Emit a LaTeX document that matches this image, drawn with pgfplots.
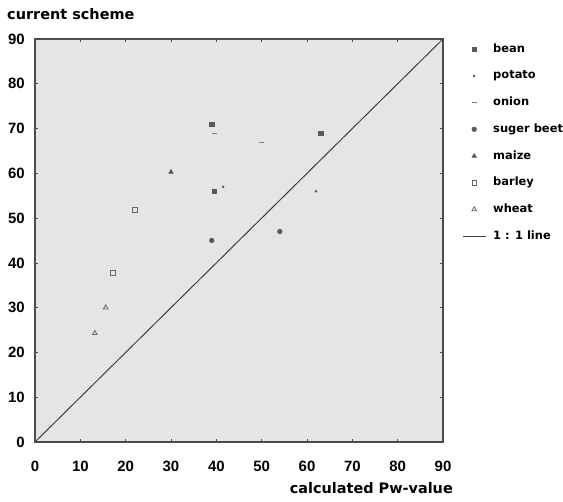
\documentclass[border=0pt]{standalone}
\usepackage{pgfplots}
\pgfplotsset{compat=1.18}
\usepackage{fontspec}
\setmainfont{Liberation Sans}
\newfontfamily\dvb{DejaVu Sans}
\definecolor{mk}{gray}{0.35}
\pgfplotsset{
 mylegmark/.style={legend image code/.code={\draw[mark repeat=2,mark phase=2,##1] plot coordinates {(0bp,0bp) (11.5bp,0bp) (23bp,0bp)};}},
 mylegline/.style={legend image code/.code={\draw[##1] (0bp,0bp) -- (23bp,0bp);}},
}
\begin{document}
\begin{tikzpicture}
\begin{axis}[
 name=ax,
 scale only axis, width=408bp, height=403bp,
 xmin=0,xmax=90,ymin=0,ymax=90,
 xtick={0,10,...,90}, ytick={0,10,...,90},
 tick label style={font=\bfseries\fontsize{15}{15}\selectfont},
 /pgf/number format/assume math mode=true,
 xticklabel style={inner sep=0pt, anchor=north, yshift=-19bp},
 yticklabel style={inner sep=0pt, anchor=east, xshift=-10bp},
 axis background/.style={fill=gray!20},
 axis line style={gray!60!black, line width=1.3pt},
 tick style={gray!60!black, line width=0.6pt},
 tick align=inside, major tick length=3pt,
 xlabel={calculated Pw-value},
 xlabel style={font=\dvb\bfseries\fontsize{14.5}{14.5}\selectfont, inner sep=0pt, at={(rel axis cs:1,0)}, anchor=base east, yshift=-51bp, xshift=10bp},
 ylabel={current scheme},
 ylabel style={font=\dvb\bfseries\fontsize{14.5}{14.5}\selectfont, inner sep=0pt, rotate=-90, at={(rel axis cs:0,1)}, anchor=base west, xshift=-28bp, yshift=20bp},
 legend style={at={(1,1)}, anchor=north west, xshift=19bp, yshift=-4bp, draw=none, fill=none, inner sep=0pt,
   font=\dvb\bfseries\fontsize{11.5}{11.5}\selectfont, row sep=14.7bp,
   nodes={inner sep=0pt, text height=9bp, text depth=3bp},
   /tikz/every odd column/.append style={column sep=7bp}},
 legend cell align=left,
]
\addplot[mylegmark, only marks, mark=square*, mark size=2.3pt, color=mk] coordinates {(39,71) (63,69) (39.5,56)};
\addlegendentry{bean}
\addplot[mylegmark, only marks, mark=*, mark size=1.1pt, color=mk] coordinates {(41.5,57) (62,56)};
\addlegendentry{potato}
\addplot[mylegmark, only marks, mark=-, mark size=2.5pt, color=gray] coordinates {(39.5,69) (50,67)};
\addlegendentry{onion}
\addplot[mylegmark, only marks, mark=*, mark size=2.4pt, color=mk] coordinates {(39,45) (54,47)};
\addlegendentry{suger beet}
\addplot[mylegmark, only marks, mark=triangle*, mark size=2.7pt, color=mk] coordinates {(30,60.3)};
\addlegendentry{maize}
\addplot[mylegmark, only marks, mark=square, mark size=2.3pt, color=gray!80!black, thick] coordinates {(22,51.8) (17.2,37.7)};
\addlegendentry{barley}
\addplot[mylegmark, only marks, mark=triangle, mark size=2.7pt, color=gray!80!black, thick] coordinates {(15.6,30) (13.2,24.3)};
\addlegendentry{wheat}
\addplot[mylegline, gray!50!black, line width=1pt] coordinates {(0,0) (90,90)};
\addlegendentry{1 : 1 line}
\end{axis}
\path ([shift={(-35bp,-60bp)}]ax.south west) rectangle ([shift={(528bp,442bp)}]ax.south west);
\end{tikzpicture}
\end{document}
